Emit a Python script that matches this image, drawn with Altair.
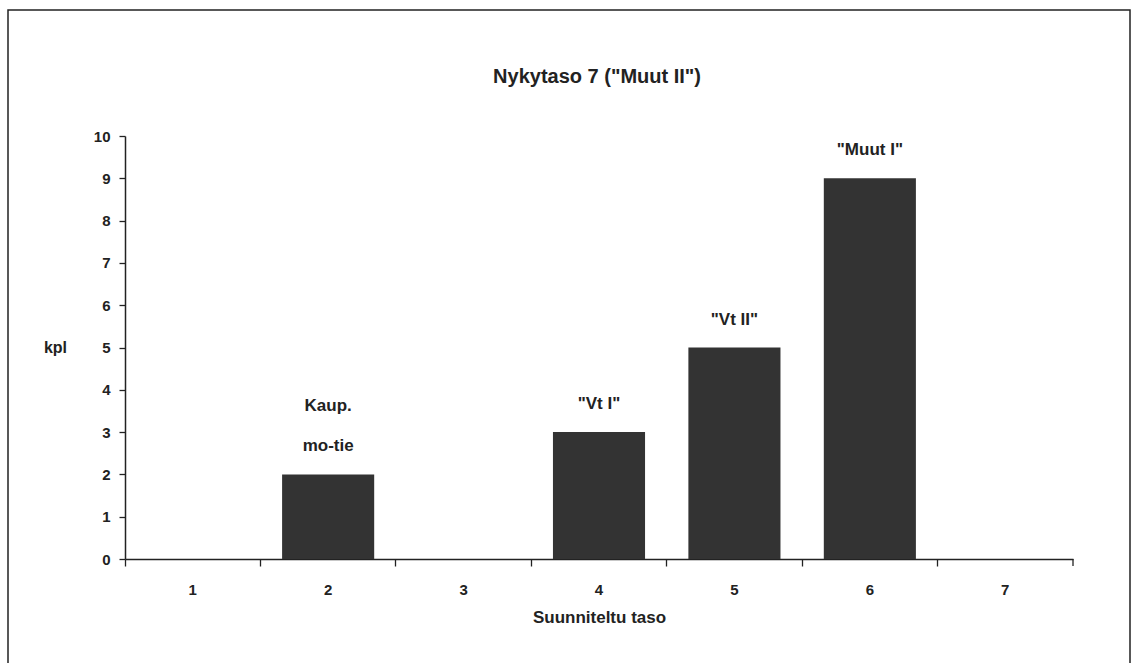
import altair as alt
import pandas as pd

# Planned level categories and counts
levels = ["1", "2", "3", "4", "5", "6", "7"]
counts = [0, 2, 0, 3, 5, 9, 0]
# bar captions: upper line (if any) and the line just above the bar
caption_upper = ["", "Kaup.", "", "", "", "", ""]
caption_lower = ["", "mo-tie", "", '"Vt I"', '"Vt II"', '"Muut I"', ""]
title_text = 'Nykytaso 7 ("Muut II")'

df = pd.DataFrame({
    "taso": levels,
    "kpl": counts,
    "ylä": caption_upper,
    "ala": caption_lower,
})
bars_df = df[df["kpl"] > 0]

W, H = 948, 423
FONT = "Liberation Sans"
INK = "#222222"

x_enc = alt.X(
    "taso:N",
    sort=levels,
    scale=alt.Scale(domain=levels, paddingInner=0, paddingOuter=0),
    axis=alt.Axis(
        title="Suunniteltu taso",
        titleFontSize=17,
        titleFontWeight="bold",
        titlePadding=12,
        labelAngle=0,
        labelFontSize=15,
        labelFontWeight="bold",
        labelPadding=16,
        bandPosition=0,
        tickSize=7,
        tickColor=INK,
        domainColor=INK,
        domainWidth=1.5,
        tickWidth=1.3,
        labelColor=INK,
        titleColor=INK,
    ),
)

y_enc = alt.Y(
    "kpl:Q",
    scale=alt.Scale(domain=[0, 10], nice=False),
    axis=alt.Axis(
        title="kpl",
        titleAngle=0,
        titleX=-70,
        titleY=H / 2,
        titleAlign="center",
        titleBaseline="middle",
        titleFontSize=16,
        titleFontWeight="bold",
        values=list(range(11)),
        labelFontSize=15,
        labelFontWeight="bold",
        labelPadding=9,
        tickSize=6,
        tickColor=INK,
        domainColor=INK,
        domainWidth=1.5,
        tickWidth=1.3,
        labelColor=INK,
        titleColor=INK,
        grid=False,
    ),
)

bars = alt.Chart(bars_df).mark_bar(
    color="#333333", width=alt.RelativeBandSize(0.68)
).encode(x=x_enc, y=y_enc)

caption_lower_layer = alt.Chart(bars_df).mark_text(
    font=FONT, fontSize=17, fontWeight="bold", color=INK,
    baseline="middle", dy=-28,
).encode(x=alt.X("taso:N", sort=levels), y="kpl:Q", text="ala:N")

caption_upper_layer = alt.Chart(bars_df).mark_text(
    font=FONT, fontSize=17, fontWeight="bold", color=INK,
    baseline="middle", dy=-68,
).encode(x=alt.X("taso:N", sort=levels), y="kpl:Q", text="ylä:N")

# closing tick at the right end of the category axis
end_tick = alt.Chart(df.head(1)).mark_rule(color=INK, strokeWidth=1.3).encode(
    x=alt.value(W), y=alt.value(H), y2=alt.value(H + 7)
)

# chart heading
heading = alt.Chart(pd.DataFrame({"t": [title_text]})).mark_text(
    font=FONT, fontSize=20, fontWeight="bold", color=INK, baseline="middle"
).encode(x=alt.value(W / 2 - 2), y=alt.value(-59), text="t:N")

# frame around the whole figure
frame = alt.Chart(df.head(1)).mark_rect(
    fill=None, stroke=INK, strokeWidth=1.5, clip=False
).encode(
    x=alt.value(-117), x2=alt.value(1005), y=alt.value(-126), y2=alt.value(540)
)

chart = alt.layer(
    frame, bars, caption_lower_layer, caption_upper_layer, end_tick, heading
).properties(
    width=W,
    height=H,
    padding={"left": 125, "top": 136, "right": 61, "bottom": 104},
    autosize=alt.AutoSizeParams(type="none"),
).configure(
    font=FONT, background="white"
).configure_view(strokeWidth=0)

chart.save("out.html", embed_options={"renderer": "svg", "actions": False})
